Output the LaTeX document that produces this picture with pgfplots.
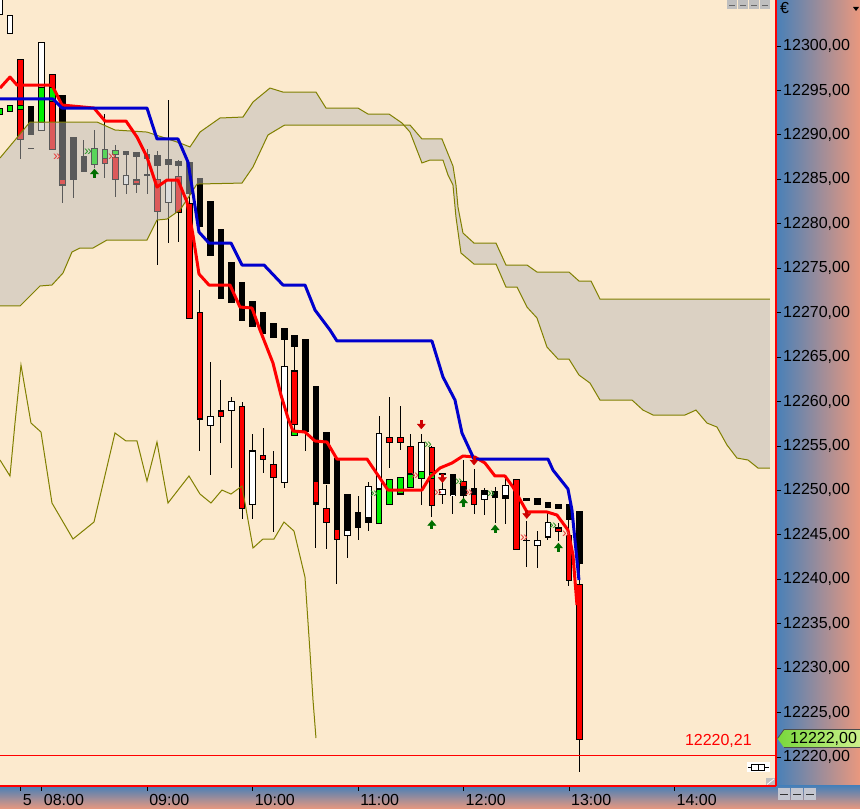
\documentclass[border=0pt]{standalone}
\usepackage{fontspec}
\setmainfont{Liberation Sans}
\usepackage{pgfplots}
\pgfplotsset{compat=1.18}
\usepackage{pgfplotstable}

\definecolor{chartbg}{RGB}{252,234,206}
\definecolor{cloudgray}{RGB}{185,185,185}
\definecolor{ichi}{RGB}{128,128,0}
\definecolor{kijun}{RGB}{0,0,205}
\definecolor{bodygreen}{RGB}{0,240,0}
\definecolor{arrowgreen}{RGB}{0,110,0}
\definecolor{arrowred}{RGB}{205,0,0}
\definecolor{chevgreen}{RGB}{40,150,40}
\definecolor{chevred}{RGB}{230,60,60}
\definecolor{panelblue}{RGB}{72,128,184}
\definecolor{panelsalmon}{RGB}{234,152,126}
\definecolor{labelgreenL}{RGB}{120,215,60}
\definecolor{labelgreenR}{RGB}{205,240,140}
\definecolor{iconbox}{RGB}{196,198,208}

% x = minutes after 08:00 (6-minute bars), y = price
\pgfplotstableread{
t lo hi
-24 12303.49 12306.50
-18 12301.46 12303.49
0 12290.55 12300.45
48 12284.47 12285.49
72 12282.45 12284.92
96 12257.47 12258.48
108 12259.04 12260.06
120 12248.47 12254.54
138 12250.94 12263.99
174 12244.98 12245.54
186 12247.00 12250.49
192 12250.27 12256.46
216 12252.18 12255.56
228 12249.48 12250.04
234 12249.37 12249.59
252 12249.03 12249.59
264 12249.03 12250.49
282 12243.97 12244.53
288 12244.87 12246.55
}\whitebody

\pgfplotstableread{
t lo hi
-6 12289.99 12293.14
-6 12288.52 12288.52
12 12284.36 12294.49
18 12285.15 12289.87
24 12285.94 12287.62
48 12287.96 12288.30
54 12287.62 12288.07
60 12287.51 12287.96
60 12285.49 12285.49
66 12286.72 12287.85
72 12286.84 12287.40
78 12286.72 12287.17
84 12283.46 12286.95
90 12279.75 12285.15
96 12276.48 12282.56
102 12271.76 12279.52
108 12271.20 12275.70
114 12269.17 12273.45
120 12268.61 12271.42
126 12267.71 12270.07
132 12267.37 12268.95
138 12267.03 12268.27
144 12266.36 12267.60
150 12256.68 12267.03
156 12248.58 12261.86
162 12250.72 12256.46
168 12244.53 12253.64
174 12245.54 12249.59
180 12245.88 12247.57
186 12246.33 12246.78
228 12251.96 12251.96
234 12249.59 12251.84
240 12249.48 12251.05
246 12249.59 12250.27
252 12249.59 12249.93
258 12249.25 12249.93
264 12249.25 12249.59
276 12249.03 12249.25
276 12244.53 12244.53
282 12248.47 12249.14
288 12248.24 12248.80
294 12248.13 12248.58
300 12246.89 12248.58
306 12241.83 12247.68
}\blackbody

\pgfplotstableread{
t lo hi
-12 12289.54 12298.54
6 12288.52 12296.96
12 12284.47 12285.15
36 12286.95 12287.51
42 12285.04 12287.51
54 12284.47 12284.92
66 12281.43 12285.04
78 12281.43 12285.49
84 12269.51 12282.45
90 12258.03 12269.96
102 12258.37 12259.04
114 12248.02 12259.49
126 12253.53 12253.98
132 12251.51 12252.97
144 12257.47 12263.54
156 12248.58 12250.94
162 12246.44 12248.02
168 12244.53 12245.65
198 12255.44 12256.01
204 12255.44 12256.01
210 12251.96 12254.99
222 12248.47 12254.99
240 12250.49 12251.05
246 12248.47 12249.59
270 12243.52 12251.39
294 12245.54 12245.88
300 12240.03 12245.09
306 12222.02 12239.47
}\redbody

\pgfplotstableread{
t lo hi
-24 12292.35 12293.02
-18 12292.69 12293.36
-12 12292.91 12293.36
0 12291.45 12295.39
6 12293.70 12295.27
30 12286.72 12288.52
36 12287.51 12288.52
42 12287.96 12288.41
144 12256.23 12256.79
192 12246.44 12250.27
198 12248.35 12251.17
204 12249.70 12251.51
210 12250.49 12251.96
216 12251.39 12252.18
222 12251.51 12252.18
}\greenbody

\pgfplotstableread{
t lo hi
-12 12287.40 12289.54
12 12282.45 12284.36
18 12283.01 12285.15
24 12285.94 12289.54
30 12286.27 12290.55
36 12285.26 12292.46
42 12283.01 12288.86
48 12283.46 12288.30
54 12283.46 12288.07
60 12283.46 12288.52
66 12275.47 12288.30
72 12277.95 12294.04
78 12277.95 12287.17
84 12269.51 12286.95
90 12254.43 12272.55
96 12251.84 12264.56
102 12255.44 12262.53
108 12252.52 12260.51
114 12246.89 12260.06
120 12246.89 12256.46
126 12251.96 12257.02
132 12245.43 12254.54
138 12250.38 12267.03
144 12256.23 12266.36
150 12254.43 12256.68
156 12243.52 12248.58
162 12243.52 12250.72
168 12239.47 12244.53
174 12242.39 12245.54
180 12244.53 12249.48
186 12245.54 12251.05
192 12250.27 12258.48
198 12252.52 12260.51
204 12254.54 12259.49
210 12250.49 12256.46
216 12248.47 12256.46
222 12247.00 12254.99
228 12248.47 12251.96
234 12247.45 12251.96
240 12248.92 12253.53
246 12247.45 12252.52
252 12247.45 12250.49
258 12246.44 12250.49
264 12246.44 12251.51
276 12241.38 12246.55
282 12241.38 12245.54
288 12244.42 12247.57
294 12244.42 12246.44
300 12239.35 12246.89
306 12218.43 12241.83
}\wicks

% senkou span A (starts on top, ends below)
\pgfplotstableread{
t y
-23.72 12287.40
-15.19 12289.42
-6.66 12291.45
31.46 12291.45
41.70 12290.55
59.91 12290.32
78.68 12289.09
84.37 12288.64
90.06 12290.32
101.44 12291.90
114.53 12292.01
120.22 12293.70
129.89 12295.27
137.28 12294.82
156.06 12294.82
161.75 12293.02
179.95 12293.02
185.64 12292.35
197.59 12292.35
204.98 12291.34
209.54 12290.32
216.36 12286.84
220.91 12287.17
228.31 12287.17
231.16 12285.49
234.00 12284.36
235.71 12280.76
238.55 12276.71
245.95 12275.47
258.47 12275.47
264.15 12272.88
270.41 12272.88
276.10 12270.63
281.79 12269.40
287.48 12266.13
293.74 12264.78
300.00 12264.78
305.69 12262.98
311.95 12262.08
317.63 12260.17
335.84 12260.17
342.10 12259.04
347.79 12258.48
365.99 12258.48
372.25 12259.04
378.51 12257.58
384.20 12257.13
389.89 12255.11
395.58 12253.64
401.83 12253.42
407.52 12252.52
414.35 12252.52
}\spanA

% senkou span B, written from right to left
\pgfplotstableread{
t y
414.35 12271.53
317.63 12271.53
312.52 12273.56
305.69 12273.56
300.00 12274.57
281.79 12274.57
276.10 12275.36
264.15 12275.36
258.47 12277.83
245.95 12277.83
239.69 12278.96
236.85 12281.88
235.71 12284.36
234.00 12286.50
227.74 12289.54
216.36 12289.54
209.54 12291.11
138.42 12291.11
137.28 12291.00
128.75 12289.99
120.22 12286.39
113.95 12284.58
88.35 12284.47
84.37 12283.23
78.68 12281.55
71.29 12280.53
65.60 12280.42
59.91 12278.17
37.15 12278.17
29.19 12277.27
21.79 12277.27
17.24 12276.82
12.12 12274.46
5.86 12273.11
-0.97 12273.00
-12.35 12270.75
-23.72 12270.75
}\spanB

\pgfplotstablevertcat{\cloudpoly}{\spanA}
\pgfplotstablevertcat{\cloudpoly}{\spanB}

\pgfplotstableread{
t y
-23.72 12253.42
-18.04 12251.62
-15.19 12257.58
-11.78 12264.11
-6.09 12257.58
-0.40 12256.57
5.86 12248.58
17.81 12244.53
29.76 12246.44
41.70 12256.46
47.96 12255.56
54.22 12255.56
59.91 12251.05
65.60 12255.44
71.86 12248.58
83.80 12251.62
90.06 12249.59
96.32 12248.58
102.58 12250.04
107.70 12249.59
113.96 12250.49
120.22 12243.52
125.91 12244.53
132.16 12244.53
137.85 12246.44
143.54 12245.43
149.80 12240.25
152.64 12231.84
154.35 12226.44
156.06 12222.14
}\chikou

\pgfplotstableread{
t y
-23.72 12295.27
-18.04 12296.51
-14.05 12295.61
5.86 12295.61
11.55 12293.36
29.76 12293.02
36.01 12291.56
47.96 12291.56
54.22 12289.76
59.91 12287.51
65.60 12284.13
71.29 12284.92
77.55 12284.92
82.67 12282.45
86.08 12278.73
89.49 12274.35
95.18 12273.11
107.13 12273.11
112.82 12270.63
119.65 12270.52
124.20 12268.05
131.59 12264.33
136.15 12260.73
140.13 12258.14
142.97 12256.68
149.80 12256.57
155.49 12255.56
162.32 12255.44
168.00 12253.53
185.07 12253.53
197.02 12250.04
216.36 12250.04
220.92 12251.51
226.61 12252.52
233.43 12253.08
239.69 12253.87
246.52 12253.75
252.21 12253.08
257.90 12251.62
263.59 12251.62
268.14 12250.38
276.10 12247.57
287.48 12247.57
293.17 12247.23
299.43 12245.54
302.27 12242.73
304.55 12237.10
}\tenkan

\pgfplotstableread{
t y
-23.72 12294.04
6.43 12294.04
11.55 12293.02
59.91 12293.02
65.60 12289.54
77.55 12289.54
83.23 12286.95
86.08 12283.46
89.49 12279.07
95.18 12277.83
107.70 12277.83
113.96 12275.36
126.47 12275.36
137.28 12273.11
149.80 12273.11
155.49 12270.30
164.02 12268.05
168.00 12266.81
222.05 12266.81
228.31 12262.76
235.14 12260.17
239.12 12256.46
245.95 12253.53
288.05 12253.53
290.89 12252.29
299.43 12250.16
301.70 12247.79
305.69 12239.92
}\kijunline

% arrow signals: t, base of arrow, signed length
\pgfplotstableread{
t y v
30 12285.15 1.0
222 12245.66 0.95
240 12248.13 1.0
258 12245.20 0.9
294 12243.07 1.0
}\uparrows

\pgfplotstableread{
t y v
216 12257.92 -1.0
228 12251.84 -0.95
246 12253.87 -1.0
276 12247.79 -0.95
}\downarrows

% small chevron signals
\pgfplotstableread{
t y
26.3 12288.07
189.1 12249.59
219.8 12255.11
237.4 12250.94
255.6 12249.59
290.9 12245.99
}\chevup

\pgfplotstableread{
t y
8.7 12287.51
40.0 12287.51
212.4 12251.62
225.5 12249.70
243.1 12249.70
274.4 12244.64
298.3 12245.09
}\chevdown

\pgfplotsset{
  boxes/.style={draw=none, no markers,
    error bars/y dir=both, error bars/y explicit, error bars/error mark=none},
}

\begin{document}
\begin{tikzpicture}
\begin{scope}[x=1bp,y=1bp]
\shade[left color=panelblue, right color=panelsalmon] (776,0) rectangle (860,809);
\shade[top color=panelblue, bottom color=panelsalmon] (0,0) rectangle (860,23);
\end{scope}

\begin{axis}[
  at={(0bp,23bp)}, anchor=south west,
  scale only axis, width=776bp, height=786bp,
  xmin=-23.72, xmax=417.8, ymin=12216.74, ymax=12305.18,
  axis background/.style={fill=chartbg},
  axis line style={draw=none},
  xtick pos=left, ytick pos=right, yticklabel pos=right,
  tick align=outside,
  major tick length=5bp, minor tick length=3bp,
  tick style={black, line width=0.8bp},
  xtick={-12,0,60,120,180,240,300,360},
  xticklabels={5,08:00,09:00,10:00,11:00,12:00,13:00,14:00},
  ytick={12220,12225,...,12300},
  minor y tick num=4,
  scaled y ticks=false,
  yticklabel={\pgfmathprintnumber[fixed,fixed zerofill,precision=2,use comma,1000 sep={},assume math mode=true]{\tick}},
  tick label style={font=\fontsize{16bp}{18bp}\selectfont, text=black},
  xticklabel style={anchor=north west, inner sep=0pt, xshift=2bp, yshift=-3bp},
  yticklabel style={anchor=west, inner sep=0pt, xshift=2bp},
]
% wicks
\addplot[boxes, error bars/error bar style={draw=black, line width=1bp}]
  table[x=t, y expr={(\thisrow{lo}+\thisrow{hi})/2}, y error expr={(\thisrow{hi}-\thisrow{lo})/2}] {\wicks};
% hollow up candles
\addplot[boxes, error bars/error bar style={draw=black, line width=6.6bp}]
  table[x=t, y expr={(\thisrow{lo}+\thisrow{hi})/2}, y error expr={(\thisrow{hi}-\thisrow{lo})/2+0.06}] {\whitebody};
\addplot[boxes, error bars/error bar style={draw=white, line width=4.6bp}]
  table[x=t, y expr={(\thisrow{lo}+\thisrow{hi})/2}, y error expr={max((\thisrow{hi}-\thisrow{lo})/2-0.06,0)}] {\whitebody};
% filled down candles
\addplot[boxes, error bars/error bar style={draw=black, line width=6.6bp}]
  table[x=t, y expr={(\thisrow{lo}+\thisrow{hi})/2}, y error expr={(\thisrow{hi}-\thisrow{lo})/2+0.06}] {\blackbody};
% red candles
\addplot[boxes, error bars/error bar style={draw=black, line width=6.6bp}]
  table[x=t, y expr={(\thisrow{lo}+\thisrow{hi})/2}, y error expr={(\thisrow{hi}-\thisrow{lo})/2+0.06}] {\redbody};
\addplot[boxes, error bars/error bar style={draw=red, line width=4.6bp}]
  table[x=t, y expr={(\thisrow{lo}+\thisrow{hi})/2}, y error expr={max((\thisrow{hi}-\thisrow{lo})/2-0.06,0)}] {\redbody};
% green candles
\addplot[boxes, error bars/error bar style={draw=black, line width=6.6bp}]
  table[x=t, y expr={(\thisrow{lo}+\thisrow{hi})/2}, y error expr={(\thisrow{hi}-\thisrow{lo})/2+0.06}] {\greenbody};
\addplot[boxes, error bars/error bar style={draw=bodygreen, line width=4.6bp}]
  table[x=t, y expr={(\thisrow{lo}+\thisrow{hi})/2}, y error expr={max((\thisrow{hi}-\thisrow{lo})/2-0.06,0)}] {\greenbody};

% chevron signals
\addplot[chevgreen, only marks, mark=text,
  text mark={\fontsize{14bp}{14bp}\selectfont\textcolor{chevgreen}{»}}]
  table[x=t, y=y] {\chevup};
\addplot[chevred, only marks, mark=text,
  text mark={\fontsize{14bp}{14bp}\selectfont\textcolor{chevred}{»}}]
  table[x=t, y=y] {\chevdown};

% ichimoku cloud: span A forward, span B back
\addplot[fill=cloudgray, fill opacity=0.49, draw=none] table[x=t, y=y] {\cloudpoly};
\addplot[ichi, line width=1bp] table[x=t, y=y] {\spanA};
\addplot[ichi, line width=1bp] table[x=t, y=y] {\spanB};
\addplot[ichi, line width=1bp] table[x=t, y=y] {\chikou};

% tenkan and kijun
\addplot[red, line width=3bp, line join=round] table[x=t, y=y] {\tenkan};
\addplot[kijun, line width=3bp, line join=round] table[x=t, y=y] {\kijunline};

% signal arrows: stem, then head
\addplot[boxes, error bars/error bar style={draw=arrowgreen, line width=3bp}]
  table[x=t, y expr={\thisrow{y}+(\thisrow{v}-0.4)/2}, y error expr={(\thisrow{v}-0.4)/2}] {\uparrows};
\addplot[arrowgreen, only marks, mark=triangle*, mark size=4.6bp, mark options={yscale=0.7}]
  table[x=t, y expr={\thisrow{y}+\thisrow{v}-0.36}] {\uparrows};
\addplot[boxes, error bars/error bar style={draw=arrowred, line width=3bp}]
  table[x=t, y expr={\thisrow{y}+(\thisrow{v}+0.4)/2}, y error expr={-(\thisrow{v}+0.4)/2}] {\downarrows};
\addplot[arrowred, only marks, mark=triangle*, mark size=4.6bp, mark options={rotate=180, yscale=0.7}]
  table[x=t, y expr={\thisrow{y}+\thisrow{v}+0.36}] {\downarrows};

% last low line
\addplot[red, line width=1bp] coordinates {(-23.72,12220.21) (417.8,12220.21)};
\node[anchor=south east, inner sep=0pt, text=red, font=\fontsize{16bp}{18bp}\selectfont, yshift=7bp]
  at (axis cs:404.1,12220.21) {12220,21};
\end{axis}

\begin{scope}[x=1bp,y=1bp]
% frame lines
\draw[red, line width=1.3bp] (0,23) -- (776,23);
\draw[red, line width=1.3bp] (776,23) -- (776,809);
% current price label
\shade[left color=labelgreenL, right color=labelgreenR]
  (777.5,70.5) -- (784,79.5) -- (860,79.5) -- (860,61.5) -- (784,61.5) -- cycle;
\draw[black!70, line width=0.8bp]
  (777.5,70.5) -- (784,79.5) -- (860,79.5) (860,61.5) -- (784,61.5) -- cycle;
\node[anchor=west, inner sep=0pt, font=\fontsize{16bp}{18bp}\selectfont] at (790,70.5) {12222,00};
% currency sign and small widgets
\node[anchor=north west, inner sep=0pt, font=\fontsize{16bp}{18bp}\selectfont] at (780,807) {€};
\fill[black] (853,802) -- (859,802) -- (856,798) -- cycle;
\foreach \bx in {727,738,749,760} {
  \fill[black!25] (\bx,800) rectangle (\bx+10,808.5);
  \draw[black!60, line width=0.6bp] (\bx+2,804) -- (\bx+8,804);
}
\foreach \bx in {778,791,804} {
  \fill[iconbox] (\bx,9) rectangle (\bx+12,21);
  \draw[black!80, line width=0.6bp] (\bx+2,15) -- (\bx+10,15);
}
\fill[white] (747,37) rectangle (770,47);
\draw[black, line width=0.8bp] (748,42) -- (751,42) (751,39) rectangle (758,45) (758,39) rectangle (764,45) (764,42) -- (769,42);
\fill[black!25] (766,23.5) rectangle (775,31);
\draw[white, line width=0.8bp] (767,24.5) -- (774,30);
\pgfresetboundingbox
\useasboundingbox (0,0) rectangle (860,809);
\end{scope}
\end{tikzpicture}
\end{document}
